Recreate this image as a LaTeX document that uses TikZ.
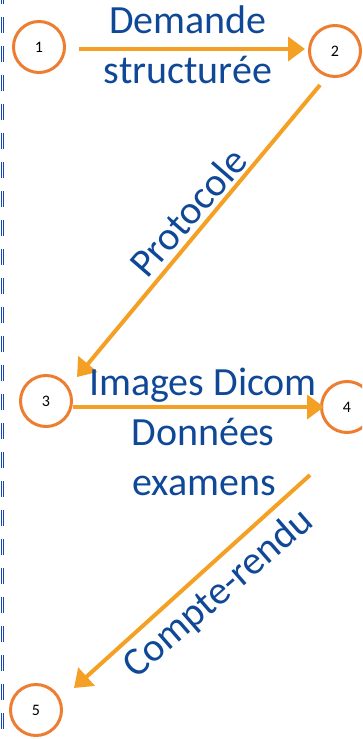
\documentclass[tikz,border=0pt]{standalone}
\usepackage{fontspec}
\setmainfont{Carlito}
\usetikzlibrary{arrows.meta}
\definecolor{circorange}{RGB}{237,125,49}
\definecolor{arrorange}{RGB}{244,160,36}
\definecolor{txtblue}{RGB}{16,72,152}
\definecolor{dashblue}{RGB}{20,70,185}
\tikzset{
  num/.style={circle,draw=circorange,line width=3pt,minimum size=51pt,inner sep=0pt,font=\fontsize{16}{16}\selectfont,text=black},
  arr/.style={draw=arrorange,line width=4pt,-{Triangle[length=17pt,width=24pt]}},
  lbl/.style={text=txtblue,font=\fontsize{40}{40}\selectfont,inner sep=0pt,anchor=base},
  rlbl/.style={text=txtblue,font=\fontsize{40}{40}\selectfont,inner sep=0pt},
  edge/.style={draw=dashblue,line width=1.3pt,dash pattern=on 16pt off 13pt}
}
\begin{document}
\begin{tikzpicture}[x=1pt,y=-1pt]
\useasboundingbox (0,0) rectangle (362,739);
\clip (0,0) rectangle (362,739);
% left double dashed edge
\coordinate (e1t) at (1.2,-12);
\coordinate (e1b) at (1.2,745);
\coordinate (e2t) at (3.8,-12);
\coordinate (e2b) at (3.8,745);
\draw[edge] (e1t) -- (e1b);
\draw[edge] (e2t) -- (e2b);
% circles
\node[num] (c1) at (39,47) {1};
\node[num] (c2) at (335,51) {2};
\node[num] (c3) at (46,401) {3};
\node[num] (c4) at (347,407) {4};
\node[num] (c5) at (36,710) {5};
% arrow end points
\coordinate (a1s) at (79,49);
\coordinate (a1e) at (305,49);
\coordinate (a2s) at (320,85);
\coordinate (a2e) at (77,377);
\coordinate (a3s) at (73,407);
\coordinate (a3e) at (324,407);
\coordinate (a4s) at (310,475);
\coordinate (a4e) at (74,688);
\draw[arr] (a1s) -- (a1e);
\draw[arr] (a2s) -- (a2e);
\draw[arr] (a3s) -- (a3e);
\draw[arr] (a4s) -- (a4e);
% labels
\node[lbl] (t1) at (188,33) {Demande};
\node[lbl] (t2) at (188,83) {structurée};
\node[lbl] (t3) at (203,395) {Images Dicom};
\node[lbl] (t4) at (203,445) {Données};
\node[lbl] (t5) at (204,495) {examens};
\node[rlbl,rotate=49] (t6) at (188,212) {Protocole};
\node[rlbl,rotate=41] (t7) at (219,594) {Compte-rendu};
\end{tikzpicture}
\end{document}
